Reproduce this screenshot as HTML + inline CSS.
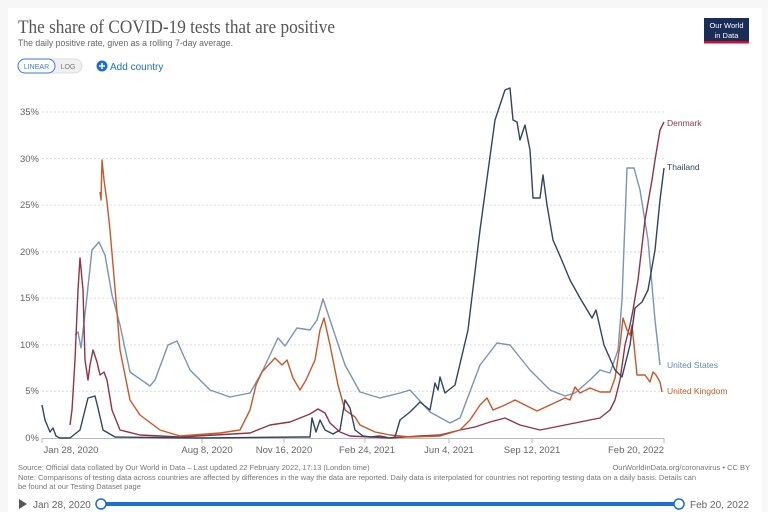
<!DOCTYPE html>
<html><head><meta charset="utf-8"><style>
body{margin:0;background:#f7f7f7;}
svg{display:block;font-family:"Liberation Sans",sans-serif;}
</style></head><body>
<svg width="768" height="512" viewBox="0 0 768 512">
<rect x="8" y="8" width="754" height="510" fill="#fff"/>
<text x="18" y="33" font-family="Liberation Serif,serif" font-size="19" fill="#555" textLength="317" lengthAdjust="spacingAndGlyphs">The share of COVID-19 tests that are positive</text>
<text x="18" y="46" font-size="9" fill="#666" textLength="215" lengthAdjust="spacingAndGlyphs">The daily positive rate, given as a rolling 7-day average.</text>
<rect x="704" y="18" width="45" height="24" fill="#1a2d56"/>
<rect x="704" y="41" width="45" height="2.5" fill="#c8102e"/>
<text x="726.5" y="28" font-size="7.5" fill="#fff" text-anchor="middle">Our World</text>
<text x="726.5" y="38" font-size="7.5" fill="#fff" text-anchor="middle">in Data</text>
<rect x="18" y="59" width="64" height="14" rx="7" fill="#f0f0f0" stroke="#ddd"/>
<rect x="18" y="59" width="37" height="14" rx="7" fill="#fff" stroke="#3a7bd5"/>
<text x="36.5" y="69" font-size="7" fill="#3a7bd5" text-anchor="middle">LINEAR</text>
<text x="68" y="69" font-size="7" fill="#777" text-anchor="middle">LOG</text>
<circle cx="102" cy="66" r="5.5" fill="#1a6fd1"/>
<path d="M99 66h6M102 63v6" stroke="#fff" stroke-width="1.5"/>
<text x="110" y="70" font-size="10" fill="#1a6fd1">Add country</text>
<g stroke="#ddd" stroke-dasharray="2,2" stroke-width="1">
<line x1="42" x2="664" y1="112" y2="112"/><line x1="42" x2="664" y1="158.6" y2="158.6"/><line x1="42" x2="664" y1="205.1" y2="205.1"/><line x1="42" x2="664" y1="251.7" y2="251.7"/><line x1="42" x2="664" y1="298.3" y2="298.3"/><line x1="42" x2="664" y1="344.9" y2="344.9"/><line x1="42" x2="664" y1="391.4" y2="391.4"/>
</g>
<line x1="42" x2="664" y1="438.5" y2="438.5" stroke="#bbb"/>
<g font-size="9.5" fill="#666" text-anchor="end">
<text x="39" y="115">35%</text><text x="39" y="162">30%</text><text x="39" y="208">25%</text><text x="39" y="255">20%</text><text x="39" y="301">15%</text><text x="39" y="348">10%</text><text x="39" y="394">5%</text><text x="39" y="441">0%</text>
</g>
<g stroke="#bbb"><line x1="42" x2="42" y1="438" y2="443"/><line x1="202" x2="202" y1="438" y2="443"/><line x1="284" x2="284" y1="438" y2="443"/><line x1="365" x2="365" y1="438" y2="443"/><line x1="449" x2="449" y1="438" y2="443"/><line x1="532" x2="532" y1="438" y2="443"/><line x1="664" x2="664" y1="438" y2="443"/></g>
<g font-size="9.5" fill="#666" text-anchor="middle">
<text x="71" y="453">Jan 28, 2020</text><text x="207" y="453">Aug 8, 2020</text><text x="284" y="453">Nov 16, 2020</text><text x="367" y="453">Feb 24, 2021</text><text x="449" y="453">Jun 4, 2021</text><text x="532" y="453">Sep 12, 2021</text><text x="636" y="453">Feb 20, 2022</text>
</g>
<g fill="none" stroke-width="1.4" stroke-linejoin="round">
<polyline stroke="#7a93b8" points="75,335 78,332 81,348 86,305 92,250 99,242 105,255 112,295 120,325 130,372 150,386 155,380 168,345 177,341 190,370 210,390 230,397 250,393 262,372 278,338 285,346 297,328 310,330 317,320 323,299 330,320 345,365 360,392 380,398 400,393 410,390 430,412 450,423 460,418 480,365 497,343 510,345 530,370 550,390 565,396 575,393 590,380 600,370 610,373 618,350 622,300 627,168 634,168 640,190 648,240 655,320 660,365"/>
<polyline stroke="#8e3545" points="70,425 72,410 75,360 78,290 80,258 83,290 85,360 88,380 90,365 93,350 97,362 100,375 104,372 107,380 112,410 120,430 140,435 180,437 250,433 270,425 290,422 310,414 318,409 325,413 330,423 340,432 350,436 390,438 420,436 440,435 460,430 475,427 490,422 505,418 520,425 540,430 560,426 580,422 600,418 610,410 615,400 620,380 625,345 630,325 633,310 638,280 645,220 652,180 655,160 660,130 664,122"/>
<polyline stroke="#c8582a" points="100,192 101,200 102,160 104,180 107,202 110,230 116,300 120,350 130,400 140,415 160,430 180,436 220,433 240,430 250,410 256,385 262,372 275,358 282,365 287,360 293,378 300,390 306,380 315,360 320,330 324,318 330,345 338,385 345,410 355,417 360,425 375,432 390,435 410,437 440,436 460,430 470,420 480,405 487,398 493,410 505,405 515,400 525,405 537,411 550,405 565,398 570,400 575,387 580,393 590,388 600,392 610,392 615,378 620,345 623,318 627,330 630,335 632,325 637,375 645,375 650,382 653,372 656,375 660,382 662,392"/>
<polyline stroke="#34445e" points="42,405 45,420 50,432 53,428 56,436 60,438 70,438 80,430 88,398 95,396 98,408 103,430 115,437 200,438 300,437 310,437 312,418 316,432 320,420 325,430 333,434 340,430 345,400 350,408 355,430 363,436 370,437 380,436 390,438 395,437 400,420 410,412 420,402 430,410 435,383 438,390 440,377 445,393 455,385 468,330 480,230 495,120 505,90 510,88 513,120 517,122 520,140 525,125 530,150 533,198 540,198 543,175 547,205 553,240 560,256 570,280 580,298 592,318 596,310 604,345 615,370 622,377 630,345 635,308 642,302 648,290 655,250 660,200 664,168"/>
</g>
<g font-size="8.5">
<text x="667" y="126" fill="#8e3545">Denmark</text>
<text x="667" y="170" fill="#34445e">Thailand</text>
<text x="667" y="368" fill="#6a84ad">United States</text>
<text x="667" y="394" fill="#c8582a">United Kingdom</text>
</g>
<g font-size="7.5" fill="#777">
<text x="18" y="470">Source: Official data collated by Our World in Data – Last updated 22 February 2022, 17:13 (London time)</text>
<text x="750" y="470" text-anchor="end">OurWorldInData.org/coronavirus • CC BY</text>
<text x="18" y="480">Note: Comparisons of testing data across countries are affected by differences in the way the data are reported. Daily data is interpolated for countries not reporting testing data on a daily basis. Details can</text>
<text x="18" y="489">be found at our Testing Dataset page</text>
</g>
<path d="M19 499l8 5l-8 5z" fill="#555"/>
<text x="33" y="508" font-size="10" fill="#666">Jan 28, 2020</text>
<rect x="101" y="502" width="578" height="4" fill="#1a6fd1"/>
<circle cx="101" cy="504" r="5" fill="#fff" stroke="#1a6fd1" stroke-width="1.5"/>
<circle cx="679" cy="504" r="5" fill="#fff" stroke="#1a6fd1" stroke-width="1.5"/>
<text x="690" y="508" font-size="10" fill="#666">Feb 20, 2022</text>
</svg>
</body></html>
